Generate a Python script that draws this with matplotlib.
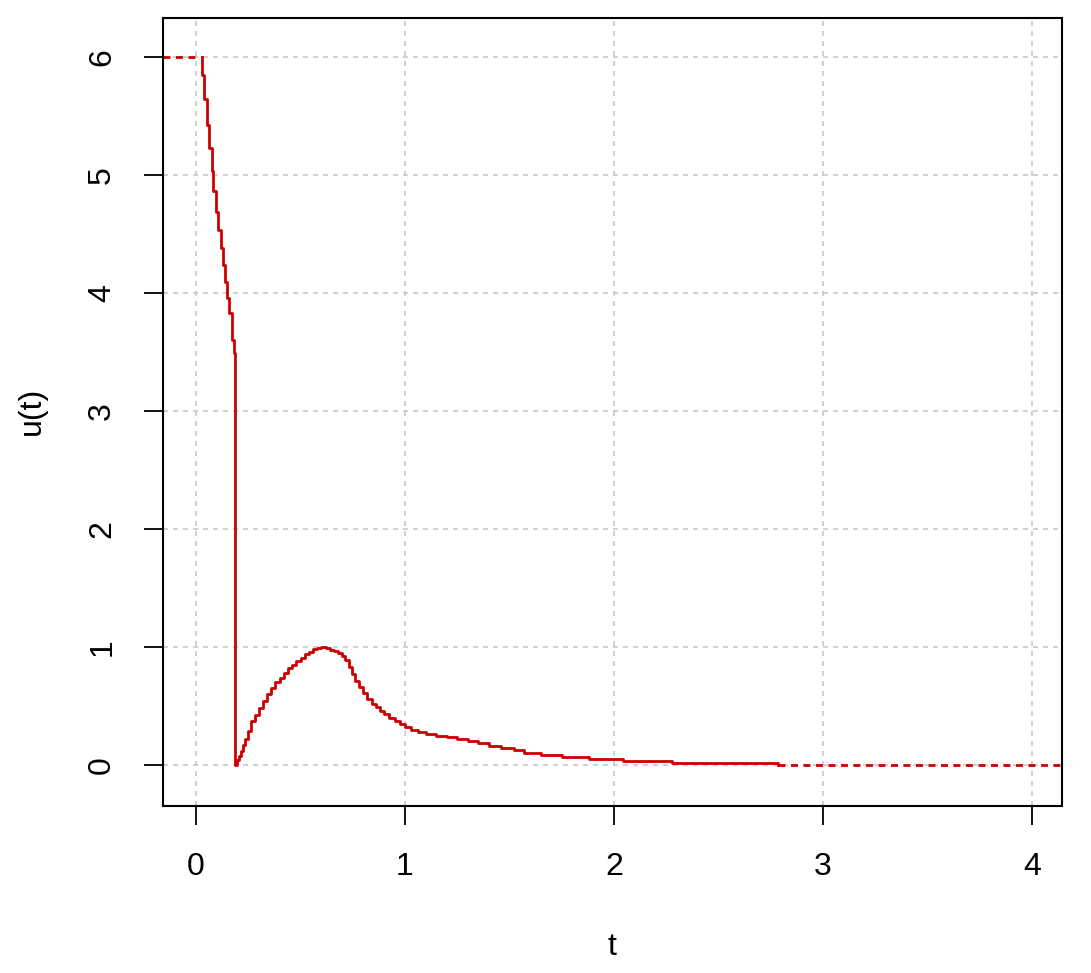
import matplotlib
matplotlib.use("Agg")
import numpy as np
import matplotlib.pyplot as plt

# step points (t, u)
t_pts = [0.027, 0.027, 0.038, 0.051, 0.064, 0.075, 0.083, 0.094, 0.107, 0.118,
         0.127, 0.139, 0.150, 0.159, 0.171, 0.182, 0.187,
         0.195, 0.205, 0.215, 0.225, 0.235, 0.250, 0.265, 0.280, 0.300,
         0.320, 0.340, 0.360, 0.380, 0.400, 0.420, 0.440, 0.460, 0.480,
         0.500, 0.520, 0.540, 0.560, 0.580, 0.600, 0.620, 0.640, 0.660,
         0.680, 0.700, 0.715, 0.730, 0.745, 0.760, 0.780, 0.800, 0.820,
         0.840, 0.860, 0.880, 0.900, 0.925, 0.950, 0.975, 1.000, 1.030,
         1.060, 1.100, 1.150, 1.200, 1.250, 1.300, 1.350, 1.400, 1.460,
         1.520, 1.570, 1.650, 1.750, 1.880, 2.045, 2.280, 2.786]
u_pts = [6.00, 5.85, 5.64, 5.42, 5.23, 5.03, 4.86, 4.69, 4.53, 4.38,
         4.24, 4.09, 3.96, 3.83, 3.60, 3.49, 0.00,
         0.04, 0.08, 0.12, 0.17, 0.22, 0.29, 0.37, 0.42, 0.48,
         0.54, 0.60, 0.65, 0.70, 0.74, 0.78, 0.82, 0.85, 0.88,
         0.91, 0.94, 0.96, 0.98, 0.995, 1.00, 0.99, 0.975, 0.965,
         0.95, 0.925, 0.89, 0.83, 0.77, 0.71, 0.66, 0.61, 0.56,
         0.52, 0.49, 0.46, 0.43, 0.40, 0.37, 0.345, 0.32, 0.30,
         0.28, 0.265, 0.25, 0.24, 0.222, 0.205, 0.185, 0.165, 0.145,
         0.125, 0.105, 0.088, 0.065, 0.048, 0.034, 0.020, 0.000]

xticks = [0, 1, 2, 3, 4]
yticks = [0, 1, 2, 3, 4, 5, 6]
xlim = (-0.158, 4.144)
ylim = (-0.347, 6.33)

fnt = ['Liberation Sans Narrow', 'Liberation Sans', 'DejaVu Sans']
red = '#cc0000'

fig = plt.figure(figsize=(10.91, 9.73), dpi=100)
ax = fig.add_axes([163/1091, 1-806/973, 899/1091, 788/973])

ax.step(t_pts, u_pts, where='post', color=red, lw=2.0)
# dotted extensions of the step function
ax.plot([xlim[0], t_pts[0]], [u_pts[0], u_pts[0]], color=red, lw=2.0, ls=(0, (2.5, 2)))
ax.plot([t_pts[-1], xlim[1]], [u_pts[-1], u_pts[-1]], color=red, lw=2.0, ls=(0, (2.5, 2)))

ax.set_xlim(*xlim)
ax.set_ylim(*ylim)
ax.set_xticks(xticks)
ax.set_yticks(yticks)
ax.grid(True, color='#c8c8c8', ls=(0, (3, 3)), lw=1.2)
ax.set_axisbelow(True)

for s in ax.spines.values():
    s.set_linewidth(1.5)
ax.tick_params(length=14, width=1.3, pad=19, labelsize=23)
for lab in ax.get_xticklabels():
    lab.set_family(fnt)
for lab in ax.get_yticklabels():
    lab.set_family(fnt)
    lab.set_rotation(90)
    lab.set_va('center')

fig.text(612/1091, 1-947/973, 't', ha='center', va='center', fontsize=23, family=fnt)
fig.text(32/1091, 1-411/973, 'u(t)', ha='center', va='center', fontsize=23,
         family=fnt, rotation=90)

fig.savefig('out.png', dpi=100)
